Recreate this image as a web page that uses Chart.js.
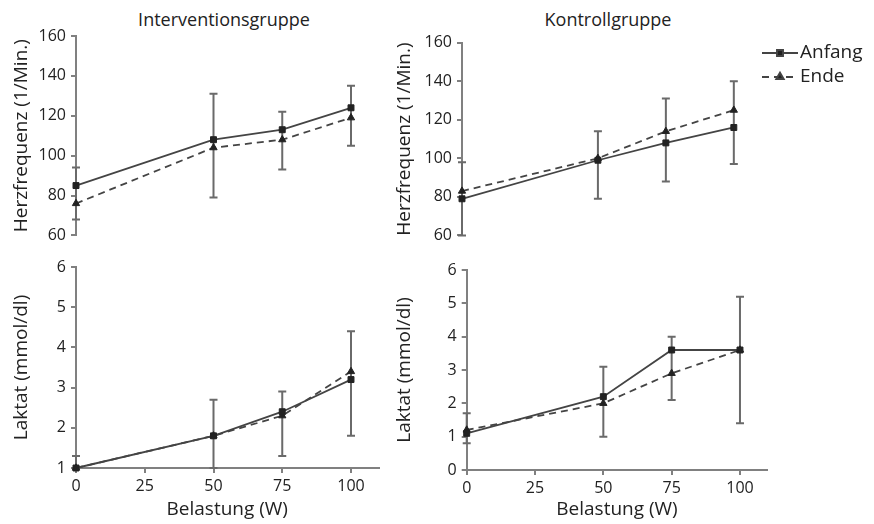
<!DOCTYPE html>
<html lang="de">
<head>
    <meta charset="UTF-8">
    <title>Herzfrequenz und Laktat</title>
    <script src="https://cdn.jsdelivr.net/npm/chart.js@4.4.0/dist/chart.umd.min.js"></script>
    <style>
        body { margin: 0; background: #fff; width: 874px; height: 524px; overflow: hidden; position: relative; font-family: "Open Sans", sans-serif; }
        .panel { position: absolute; }
        .grouptitle { position: absolute; top: 7px; font-size: 18px; color: #222; transform: translateX(-50%); white-space: nowrap; }
    </style>
</head>
<body>
    <div class="grouptitle" style="left:224px">Interventionsgruppe</div>
    <div class="grouptitle" style="left:608px">Kontrollgruppe</div>

    <div class="panel" style="left:0; top:0; width:420px; height:250px"><canvas id="ivHr"></canvas></div>
    <div class="panel" style="left:380px; top:0; width:494px; height:250px"><canvas id="kgHr"></canvas></div>
    <div class="panel" style="left:0; top:250px; width:420px; height:274px"><canvas id="ivLac"></canvas></div>
    <div class="panel" style="left:380px; top:250px; width:494px; height:274px"><canvas id="kgLac"></canvas></div>

    <script>
        // ***********
        // Data
        // ***********
        var loads = [0, 50, 75, 100];              // Belastung (W)
        var loadTicks = [0, 25, 50, 75, 100];
        var hrTicks = [60, 80, 100, 120, 140, 160];
        var lacTicksIv = [1, 2, 3, 4, 5, 6];
        var lacTicksKg = [0, 1, 2, 3, 4, 5, 6];
        var seriesNames = ['Anfang', 'Ende'];

        // Interventionsgruppe - Herzfrequenz
        var ivHrStart = [85, 108, 113, 124];
        var ivHrEnd = [76, 104, 108, 119];
        var ivHrErrHigh = [94, 131, 122, 135];
        var ivHrErrLow = [68, 79, 93, 105];

        // Kontrollgruppe - Herzfrequenz
        var kgHrStart = [79, 99, 108, 116];
        var kgHrEnd = [83, 100, 114, 125];
        var kgHrErrHigh = [98, 114, 131, 140];
        var kgHrErrLow = [60, 79, 88, 97];

        // Interventionsgruppe - Laktat
        var ivLacStart = [1.0, 1.8, 2.4, 3.2];
        var ivLacEnd = [1.0, 1.8, 2.3, 3.4];
        var ivLacErrHigh = [1.3, 2.7, 2.9, 4.4];
        var ivLacErrLow = [1.0, 1.0, 1.3, 1.8];

        // Kontrollgruppe - Laktat
        var kgLacStart = [1.1, 2.2, 3.6, 3.6];
        var kgLacEnd = [1.2, 2.0, 2.9, 3.6];
        var kgLacErrHigh = [1.7, 3.1, 4.0, 5.2];
        var kgLacErrLow = [0.8, 1.0, 2.1, 1.4];

        var FONT = '"Open Sans", sans-serif';
        var TEXT = '#222';
        var AXIS = '#808080';
        var LINE = '#444';

        // ***************
        // Plugins
        // ***************

        // Vertical error bars with caps, drawn through the x/y scales
        var errorBarPlugin = {
            id: 'errorBars',
            beforeDatasetsDraw: function(chart, args, opts) {
                if (!opts.high) { return }
                var ctx = chart.ctx, x = chart.scales.x, y = chart.scales.y;
                ctx.save();
                ctx.strokeStyle = '#6a6a6a';
                ctx.lineWidth = 2;
                for (var i = 0; i < loads.length; i++) {
                    var px = x.getPixelForValue(loads[i]);
                    var top = y.getPixelForValue(opts.high[i]);
                    var bot = y.getPixelForValue(opts.low[i]);
                    ctx.beginPath();
                    ctx.moveTo(px, top); ctx.lineTo(px, bot);
                    ctx.moveTo(px - 4, top); ctx.lineTo(px + 4, top);
                    ctx.moveTo(px - 4, bot); ctx.lineTo(px + 4, bot);
                    ctx.stroke();
                }
                ctx.restore();
            }
        };

        // Legend: line sample with marker, then label
        var lineLegendPlugin = {
            id: 'lineLegend',
            afterDraw: function(chart, args, opts) {
                if (!opts.x) { return }
                var ctx = chart.ctx;
                ctx.save();
                chart.data.datasets.forEach(function(ds, i) {
                    var ly = opts.y + i * opts.gap;
                    ctx.strokeStyle = LINE;
                    ctx.lineWidth = 2;
                    ctx.setLineDash(ds.borderDash || []);
                    ctx.beginPath();
                    ctx.moveTo(opts.x, ly); ctx.lineTo(opts.x + opts.len, ly);
                    ctx.stroke();
                    ctx.setLineDash([]);
                    Chart.helpers.drawPoint(ctx, {pointStyle: ds.pointStyle, radius: ds.pointRadius, borderWidth: 1}, opts.x + opts.len / 2, ly);
                    ctx.fillStyle = TEXT;
                    ctx.font = '19px ' + FONT;
                    ctx.textBaseline = 'middle';
                    ctx.fillText(ds.label, opts.x + opts.len + 2, ly);
                });
                ctx.restore();
            }
        };

        // ***************
        // Chart builders
        // ***************
        function makeDatasets(start, end) {
            return [
                {label: seriesNames[0], data: start, borderColor: LINE, borderWidth: 1.8, pointStyle: 'rect', pointRadius: 4.2,
                 pointBackgroundColor: '#222', pointBorderColor: '#222', pointBorderWidth: 1, clip: false},
                {label: seriesNames[1], data: end, borderColor: LINE, borderWidth: 1.8, borderDash: [7, 5], pointStyle: 'triangle', pointRadius: 4.2,
                 pointBackgroundColor: '#222', pointBorderColor: '#222', pointBorderWidth: 1, clip: false}
            ];
        }

        function fixedTicks(list) {
            return function(scale) { scale.ticks = list.map(function(v) { return {value: v} }) };
        }

        function buildPanel(id, cfg) {
            return new Chart(document.getElementById(id), {
                type: 'line',
                data: { labels: loads, datasets: makeDatasets(cfg.start, cfg.end) },
                options: {
                    responsive: true,
                    maintainAspectRatio: false,
                    animation: false,
                    events: [],
                    parsing: false,
                    layout: { padding: cfg.padding },
                    plugins: {
                        legend: { display: false },
                        tooltip: { enabled: false },
                        errorBars: { high: cfg.high, low: cfg.low },
                        lineLegend: cfg.legend || {}
                    },
                    scales: {
                        x: {
                            type: 'linear', min: 0, max: 110,
                            display: cfg.showX,
                            afterBuildTicks: fixedTicks(loadTicks),
                            afterFit: function(s) { if (cfg.showX) { s.height = cfg.xHeight } },
                            grid: { display: true, drawOnChartArea: false, tickLength: 5, color: AXIS, lineWidth: 2 },
                            border: { display: true, color: AXIS, width: 2 },
                            ticks: { color: TEXT, font: { family: FONT, size: 16 }, padding: 4, maxRotation: 0 },
                            title: { display: true, text: 'Belastung (W)', color: TEXT, font: { family: FONT, size: 19 }, padding: { top: 0, bottom: 2.6 } }
                        },
                        y: {
                            min: cfg.ymin, max: cfg.ymax,
                            afterBuildTicks: fixedTicks(cfg.yTicks),
                            afterFit: function(s) { s.width = cfg.yWidth },
                            grid: { display: true, drawOnChartArea: false, tickLength: 5, color: AXIS, lineWidth: 2 },
                            border: { display: true, color: AXIS, width: 2 },
                            ticks: { color: TEXT, font: { family: FONT, size: 16 }, padding: 5 },
                            title: { display: true, text: cfg.yTitle, color: TEXT, font: { family: FONT, size: 19 }, padding: { top: cfg.yTitlePad, bottom: 0 } }
                        }
                    }
                },
                plugins: [errorBarPlugin, lineLegendPlugin]
            });
        }

        function toPoints(vals) {
            return vals.map(function(v, i) { return {x: loads[i], y: v} });
        }

        buildPanel('ivHr', {
            start: toPoints(ivHrStart), end: toPoints(ivHrEnd), high: ivHrErrHigh, low: ivHrErrLow,
            ymin: 60, ymax: 160, yTicks: hrTicks, yTitle: 'Herzfrequenz (1/Min.)',
            showX: false, yWidth: 76, yTitlePad: 10.6,
            padding: { left: 0, top: 36, right: 41.5, bottom: 11 }
        });

        buildPanel('kgHr', {
            start: toPoints(kgHrStart), end: toPoints(kgHrEnd), high: kgHrErrHigh, low: kgHrErrLow,
            ymin: 60, ymax: 160, yTicks: hrTicks, yTitle: 'Herzfrequenz (1/Min.)',
            showX: false, yWidth: 82, yTitlePad: 13.6,
            padding: { left: 0, top: 42.7, right: 113, bottom: 12.3 },
            legend: { x: 382, y: 53, gap: 24, len: 36 }
        });

        buildPanel('ivLac', {
            start: toPoints(ivLacStart), end: toPoints(ivLacEnd), high: ivLacErrHigh, low: ivLacErrLow,
            ymin: 1, ymax: 6, yTicks: lacTicksIv, yTitle: 'Laktat (mmol/dl)',
            showX: true, xHeight: 56, yWidth: 76, yTitlePad: 10.6,
            padding: { left: 0, top: 17, right: 41.5, bottom: 0 }
        });

        buildPanel('kgLac', {
            start: toPoints(kgLacStart), end: toPoints(kgLacEnd), high: kgLacErrHigh, low: kgLacErrLow,
            ymin: 0, ymax: 6, yTicks: lacTicksKg, yTitle: 'Laktat (mmol/dl)',
            showX: true, xHeight: 54, yWidth: 86.7, yTitlePad: 13.6,
            padding: { left: 0, top: 20, right: 106.7, bottom: 0 },
            legend: { x: 395, y: 284, gap: 25, len: 32 }
        });
    </script>
</body>
</html>
